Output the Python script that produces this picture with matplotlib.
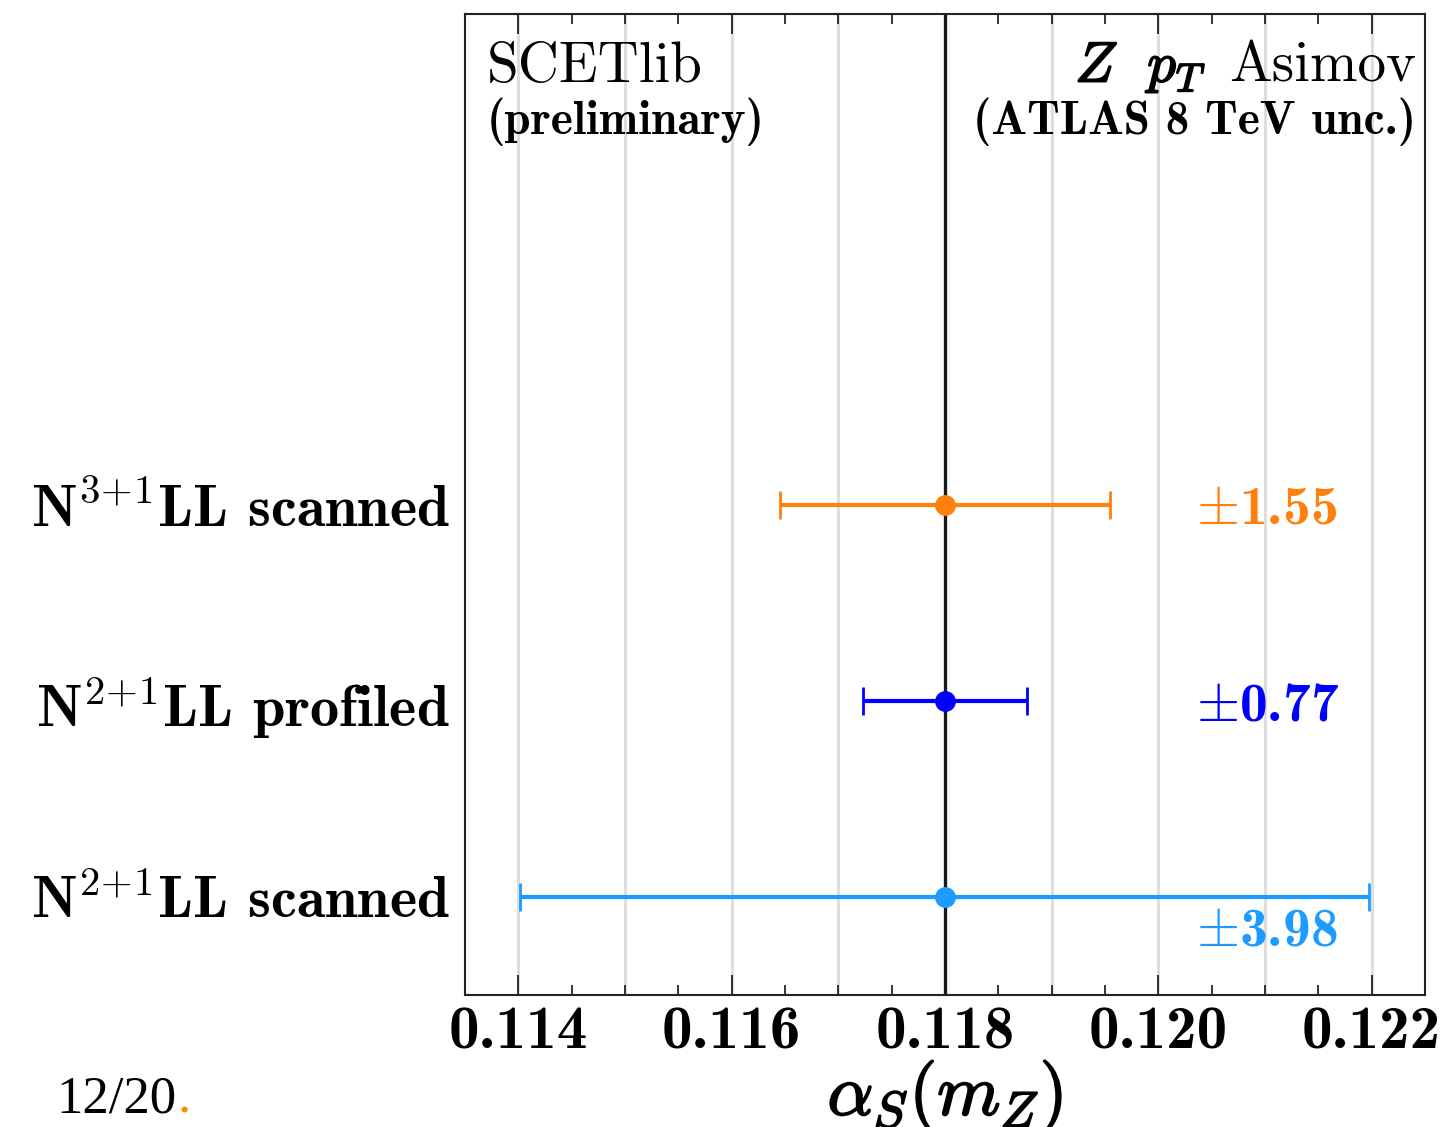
import numpy as np
import matplotlib; matplotlib.use("Agg")
import matplotlib.pyplot as plt
import matplotlib.patheffects as pe
from matplotlib.ticker import MultipleLocator

plt.rcParams["mathtext.fontset"] = "cm"
plt.rcParams["axes.unicode_minus"] = False

# alpha_s fits from the Z pT Asimov study
labels = [r"N$^{2\!+\!1}$LL scanned", r"N$^{2\!+\!1}$LL profiled", r"N$^{3\!+\!1}$LL scanned"]
central = [0.118, 0.118, 0.118]
unc = [0.00398, 0.00077, 0.00155]          # 1 sigma
unc_text = [r"$\pm$3.98", r"$\pm$0.77", r"$\pm$1.55"]   # x 10^-3
colors = ["#1e9bff", "#0000ff", "#ff800e"]
text_dy = [-0.18, -0.03, -0.03]
xticks = [0.114, 0.116, 0.118, 0.120, 0.122]
ref = 0.118

bold = [pe.withStroke(linewidth=1.3, foreground="black")]

fig = plt.figure(figsize=(14.49, 11.27), dpi=100)
ax = fig.add_axes([0.3209, 0.1171, 0.6625, 0.8705])
ypos = np.arange(1, len(labels) + 1)

ax.axvline(ref, color="#1a1a1a", lw=2.4, zorder=2)
for y, c, e, col, t, dy in zip(ypos, central, unc, colors, unc_text, text_dy):
    ax.errorbar(c, y, xerr=e, fmt="o", color=col, ms=14, elinewidth=3,
                capsize=10, capthick=2, zorder=3)
    ax.text(0.12035, y + dy, t, color=col, fontsize=40, family="cmb10",
            ha="left", va="center")

ax.set_xlim(0.1135, 0.1225)
ax.set_ylim(0.5, 5.5)
ax.set_xticks(xticks)
ax.set_xticklabels([f"{v:.3f}" for v in xticks], family="cmb10", fontsize=44)
ax.xaxis.set_minor_locator(MultipleLocator(0.0005))
for v in np.arange(0.114, 0.1225, 0.001):
    ax.axvline(v, color="#dcdcdc", lw=2, zorder=0)
ax.tick_params(axis="x", which="major", direction="in", top=True, length=14.5, width=1.1, pad=8)
ax.tick_params(axis="x", which="minor", direction="in", top=True, length=7, width=1.1)
ax.set_yticks(ypos)
ax.set_yticklabels(labels, family="cmb10", fontsize=42)
ax.tick_params(axis="y", length=0, pad=11)
for s in ax.spines.values():
    s.set_linewidth(1.5)
    s.set_color("#222222")

fig.text(0.6522, 0.011, r"$\alpha_S(m_Z)$", fontsize=52, ha="center",
         va="baseline", path_effects=bold)

ax.text(0.023, 0.9307, "SCETlib", transform=ax.transAxes, family="cmr10",
        fontsize=41, ha="left", va="baseline")
ax.text(0.023, 0.8777, "(preliminary)", transform=ax.transAxes, family="cmb10",
        fontsize=34, ha="left", va="baseline")
ax.text(0.991, 0.9307, "Asimov", transform=ax.transAxes,
        family="cmr10", fontsize=41, ha="right", va="baseline")
ax.text(0.772, 0.9307, r"$Z\ \ p_T$", transform=ax.transAxes, fontsize=41,
        ha="right", va="baseline", path_effects=bold)
ax.text(0.991, 0.8777, "(ATLAS 8 TeV unc.)", transform=ax.transAxes, family="cmb10",
        fontsize=34, ha="right", va="baseline")

fig.text(0.039, 0.003, "12/20", family="Liberation Serif", fontsize=38,
         ha="left", va="bottom")
fig.text(0.1225, 0.003, ".", family="Liberation Serif", fontsize=38, color="#ff8c00",
         ha="left", va="bottom")

fig.savefig("out.png", dpi=100)
